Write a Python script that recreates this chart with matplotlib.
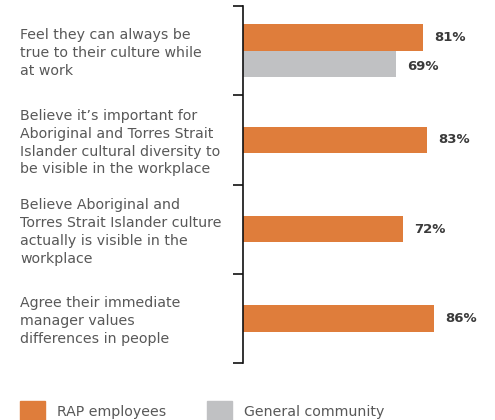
import matplotlib.pyplot as plt
from matplotlib.patches import Patch

# Données
categories = [
    "Feel they can always be\ntrue to their culture while\nat work",
    "Believe it\u2019s important for\nAboriginal and Torres Strait\nIslander cultural diversity to\nbe visible in the workplace",
    "Believe Aboriginal and\nTorres Strait Islander culture\nactually is visible in the\nworkplace",
    "Agree their immediate\nmanager values\ndifferences in people",
]
rap_employees = [81, 83, 72, 86]
general_community = [69, None, None, None]
series_names = ["RAP employees", "General community"]

orange = "#df7d3b"
gris = "#c0c1c3"
texte = "#585858"

plt.rcParams['font.family'] = ['DejaVu Sans']

fig = plt.figure(figsize=(4.95, 4.2), dpi=100)
ax = fig.add_axes([243 / 495, 57 / 420, 222 / 495, 357 / 420])

h = 0.295
for i, (v_rap, v_gen) in enumerate(zip(rap_employees, general_community)):
    if v_gen is None:
        ax.barh(i, v_rap, height=h, color=orange)
        ax.text(v_rap + 5, i, f"{v_rap}%", va="center", ha="left",
                fontsize=9.5, fontweight="bold", color="#3a3a3a")
    else:
        ax.barh(i - h / 2, v_rap, height=h, color=orange)
        ax.barh(i + h / 2, v_gen, height=h, color=gris)
        ax.text(v_rap + 5, i - h / 2, f"{v_rap}%", va="center", ha="left",
                fontsize=9.5, fontweight="bold", color="#3a3a3a")
        ax.text(v_gen + 5, i + h / 2 + 0.03, f"{v_gen}%", va="center", ha="left",
                fontsize=9.5, fontweight="bold", color="#3a3a3a")

ax.set_xlim(0, 100)
ax.set_ylim(len(categories) - 0.5, -0.5)
ax.set_yticks([k - 0.5 for k in range(len(categories) + 1)])
ax.set_yticklabels([])
ax.set_xticks([])
ax.tick_params(axis="y", direction="out", length=7.5, width=1.2, color="#111111")
for s in ["top", "right", "bottom"]:
    ax.spines[s].set_visible(False)
ax.spines["left"].set_linewidth(1.2)
ax.spines["left"].set_color("#111111")
ax.patch.set_alpha(0)

# Libellés des catégories
for i, cat in enumerate(categories):
    y = ax.transData.transform((0, i + 0.03))[1] / fig.dpi / 4.2
    fig.text(20 / 495, y, cat, ha="left", va="center", fontsize=10.2,
             color=texte, linespacing=1.36)

# Légende
handles = [Patch(color=orange), Patch(color=gris)]
fig.legend(handles, series_names, loc="upper left", bbox_to_anchor=(20 / 495, 19 / 420),
           ncol=2, frameon=False, fontsize=10.2, handlelength=1.75, handleheight=2.0,
           handletextpad=0.85, columnspacing=2.9, borderpad=0, borderaxespad=0,
           labelcolor=texte)

fig.savefig("out.png", dpi=100)
